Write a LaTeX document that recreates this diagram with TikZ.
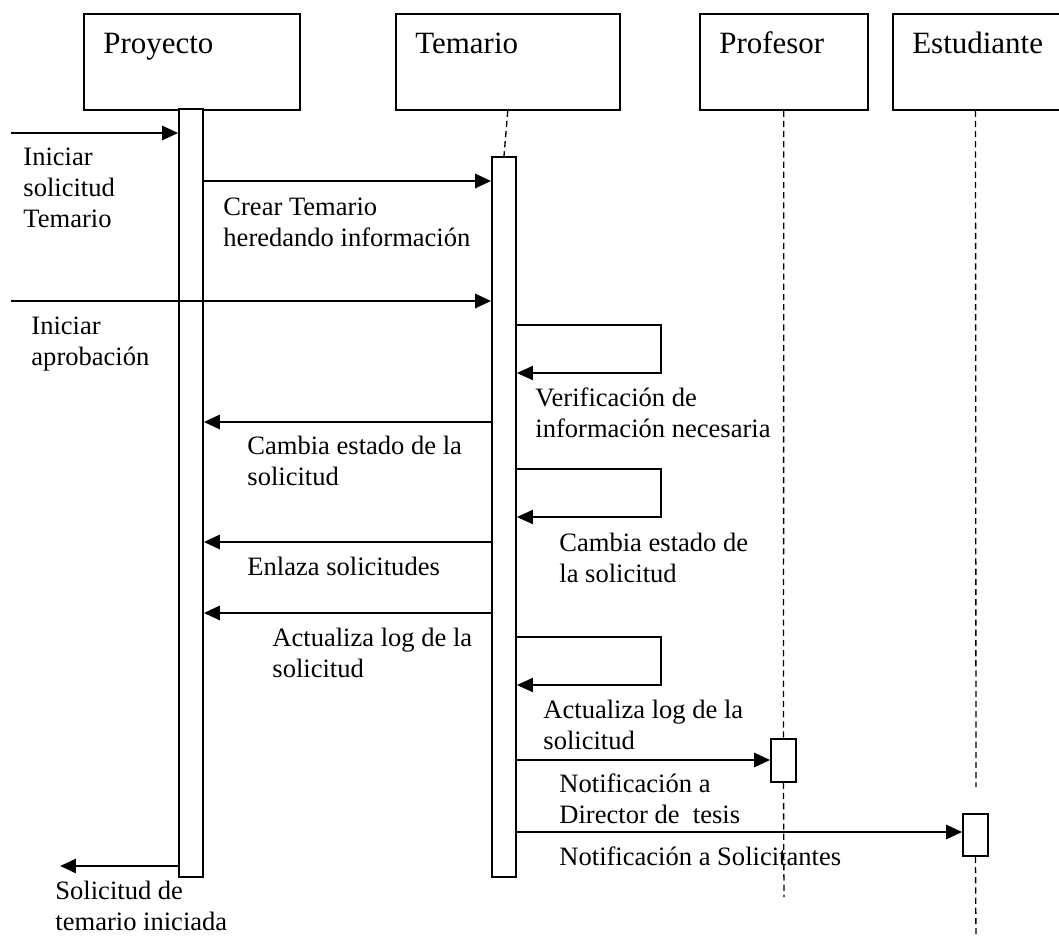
\documentclass[tikz,border=0pt]{standalone}
\usepackage{fontspec}
\setmainfont{Liberation Serif}
\usetikzlibrary{arrows.meta, positioning}

\begin{document}
\begin{tikzpicture}[
		x=0.452pt, y=-0.452pt,
		actor/.style={draw, line width=0.75pt, anchor=north west, align=left,
			inner xsep=8.8pt, inner ysep=0pt, text height=18.1pt, text depth=25.3pt,
			font=\fontsize{14}{16}\selectfont},
		activation/.style={draw, fill=white, line width=0.75pt, inner sep=0pt,
			minimum width=10.85pt},
		lifeline/.style={line width=0.6pt, dash pattern=on 2.8pt off 1.8pt},
		msg/.style={-{Triangle[length=7.2pt, width=6.3pt]}, line width=1.3pt},
		selfmsg/.style={-{Triangle[length=7.2pt, width=6.3pt]}, line width=0.75pt},
		note/.style={anchor=base west, align=left, inner sep=0pt,
			font=\fontsize{12}{13.8}\selectfont}
	]
		\useasboundingbox (0,0) rectangle (1059,936);
		% objetos
		\node[actor, text width=80pt] (proyecto) at (83,13) {Proyecto};
		\node[actor, text width=83.6pt] (temario) at (395,13) {Temario};
		\node[actor, text width=58.3pt] (profesor) at (699,13) {Profesor};
		\node[actor, text width=70pt] (estudiante) at (892,13) {Estudiante};
		% activaciones
		\node[activation, minimum height=347.1pt] (actproy) at (191,493) {};
		\node[activation, minimum height=325.4pt] (acttem) at (504,517) {};
		\node[activation, minimum width=11.3pt, minimum height=19.4pt] (actprof) at (783.5,760.5) {};
		\node[activation, minimum width=11.3pt, minimum height=19pt] (actest) at (975.5,835) {};
		% extremos libres
		\coordinate (profend) at (784,897);
		\coordinate (estgap) at (976,787);
		\coordinate (estend) at (976,940);
		\coordinate (in1) at (11,133);
		\coordinate (in2) at (11,301);
		\coordinate (out) at (60,866);
		% lineas de vida
		\draw[lifeline] (temario.south) -- (acttem.north);
		\draw[lifeline] (profesor.south) -- (actprof.north);
		\draw[lifeline] (actprof.south) -- (profend);
		\draw[lifeline] (actest |- estudiante.south) -- (estgap);
		\draw[lifeline] (actest.south) -- (estend);
		% mensajes
		\draw[msg] (in1) -- (actproy.west |- in1);
		\draw[msg] (actproy.east |- 0,181) -- (acttem.west |- 0,181);
		\draw[msg] (in2) -- (acttem.west |- in2);
		\foreach \y in {325,469,637}
			\draw[selfmsg] (acttem.east |- 0,\y) -- ++(144,0) -- ++(0,48) -- (acttem.east |- 0,\y+48);
		\foreach \y in {422,542,613}
			\draw[msg] (acttem.west |- 0,\y) -- (actproy.east |- 0,\y);
		\draw[msg] (acttem.east |- 0,760) -- (actprof.west |- 0,760);
		\draw[msg] (acttem.east |- 0,832) -- (actest.west |- 0,832);
		\draw[msg] (actproy.west |- out) -- (out);
		% etiquetas (base = ultima linea)
		\node[note] (lbsolicitud) at (23,227) {Iniciar\\solicitud\\Temario};
		\node[note] (lbcrear) at (223,246) {Crear Temario\\heredando información};
		\node[note] (lbaprob) at (31,365) {Iniciar\\aprobación};
		\node[note] (lbverif) at (535,437) {Verificación de\\información necesaria};
		\node[note] (lbcambia) at (247,485) {Cambia estado de la\\solicitud};
		\node[note] (lbcambiab) at (559,582) {Cambia estado de\\la solicitud};
		\node[note] (lbenlaza) at (247,575) {Enlaza solicitudes};
		\node[note] (lblog) at (272,677) {Actualiza log de la\\solicitud};
		\node[note] (lblogb) at (543,749) {Actualiza log de la\\solicitud};
		\node[note] (lbdirector) at (559,823) {Notificación a\\Director de\ \ tesis};
		\node[note] (lbsolic) at (559,865) {Notificación a Solicitantes};
		\node[note] (lbfin) at (55,930) {Solicitud de\\temario iniciada};
	\end{tikzpicture}
\end{document}
